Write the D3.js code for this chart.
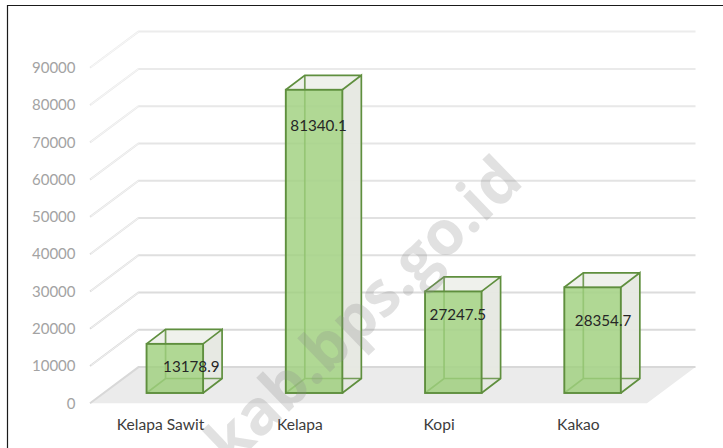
<!DOCTYPE html>
<html><head><meta charset="utf-8">
<script src="https://cdn.jsdelivr.net/npm/d3@7"></script>
<style>html,body{margin:0;padding:0;background:#fff}svg{display:block}text{font-family:Lato,"Open Sans",sans-serif}</style>
</head><body><div id="chart"></div>
<script>
const categories = ["Kelapa Sawit", "Kelapa", "Kopi", "Kakao"];
const values = [13178.9, 81340.1, 27247.5, 28354.7];
const valueLabels = ["13178.9", "81340.1", "27247.5", "28354.7"];
const yTicks = [0, 10000, 20000, 30000, 40000, 50000, 60000, 70000, 80000, 90000];
const watermark = "kab.bps.go.id";

const W = 723, H = 448;
const svg = d3.select("#chart").append("svg").attr("width", W).attr("height", H);

// layout
const wall = {dx: 48.5, dy: -36.2};         // floor depth
const inset = {dx: 15.2, dy: -10.3};        // bar front plane behind floor front
const depth = {dx: 19, dy: -14.5};          // bar depth
const y = d3.scaleLinear().domain([0, 90000]).range([403.3, 67.8]);
const x = d3.scaleBand().domain(categories).range([90 + inset.dx, 647 + inset.dx]).paddingInner(0.594).paddingOuter(0.297);
const xLabel = d3.scaleBand().domain(categories).range([91.5, 648.5]);
const labelShift = [[16.5, 23], [4.5, 36], [4.5, 23], [10.5, 33]]; // label centre relative to bar top centre

const pts = a => a.map(p => p.join(",")).join(" ");

// frame
svg.append("path").attr("d", `M7.5,${H} V5.5 H${W}`).attr("fill", "none").attr("stroke", "#1a1a1a").attr("stroke-width", 1.2);

// floor
svg.append("polygon")
  .attr("points", pts([[90, y(0)], [90 + wall.dx, y(0) + wall.dy], [647 + wall.dx, y(0) + wall.dy], [647, y(0)]]))
  .attr("fill", "#ebebeb");

// gridlines
const gridColor = d3.scaleLinear().domain([0, 90000]).range(["#d8d8d8", "#ececec"]);
svg.append("g").selectAll("polyline").data(yTicks).join("polyline")
  .attr("points", d => pts([[90, y(d)], [90 + wall.dx, y(d) + wall.dy], [647 + wall.dx, y(d) + wall.dy]]))
  .attr("fill", "none").attr("stroke", d => gridColor(d)).attr("stroke-width", 2);
svg.append("g").selectAll("line").data(yTicks.slice(1)).join("line")
  .attr("x1", 91).attr("y1", d => y(d) - 0.7).attr("x2", 90 + wall.dx).attr("y2", d => y(d) + wall.dy)
  .attr("stroke", "#fff").attr("stroke-width", 0.6);

// y tick labels
svg.append("g").selectAll("text").data(yTicks).join("text")
  .attr("x", 75.5).attr("y", d => y(d)).attr("dy", "0.35em").attr("text-anchor", "end")
  .attr("font-size", 15).attr("fill", "#a3a3a3").text(d => d);

// x labels
svg.append("g").selectAll("text").data(categories).join("text")
  .attr("x", d => xLabel(d) + xLabel.bandwidth() / 2 - 0.5).attr("y", 430).attr("text-anchor", "middle")
  .attr("font-size", 15.6).attr("fill", "#3c3c3c").text(d => d);

// bars
const edge = "#5f8f3e";
const bars = svg.append("g").selectAll("g").data(categories.map((c, i) => ({c, v: values[i], i}))).join("g");
bars.each(function (d) {
  const g = d3.select(this);
  const l = x(d.c), r = l + x.bandwidth();
  const b = y(0) + inset.dy, t = y(d.v) + inset.dy;
  const dx = depth.dx, dy = depth.dy;
  // translucent faces
  g.append("polygon").attr("points", pts([[l + dx, t + dy], [r + dx, t + dy], [r + dx, b + dy], [l + dx, b + dy]]))
    .attr("fill", "#f2f3ef").attr("fill-opacity", 0.55);
  g.append("polygon").attr("points", pts([[l, b], [l + dx, b + dy], [r + dx, b + dy], [r, b]]))
    .attr("fill", "#d9dcd2").attr("fill-opacity", 0.6);
  g.append("polygon").attr("points", pts([[r, t], [r + dx, t + dy], [r + dx, b + dy], [r, b]]))
    .attr("fill", "#e6e8e2").attr("fill-opacity", 0.95);
  g.append("polygon").attr("points", pts([[l, t], [l + dx, t + dy], [r + dx, t + dy], [r, t]]))
    .attr("fill", "#eff1ec").attr("stroke", "none");
  // back edges
  g.append("path").attr("d", `M${l},${b} L${l + dx},${b + dy} H${r + dx} M${l + dx},${b + dy} V${t + dy}`)
    .attr("fill", "none").attr("stroke", edge).attr("stroke-width", 1.7).attr("stroke-opacity", .85);
  // outer side edges
  g.append("path").attr("d", `M${r},${b} L${r + dx},${b + dy} V${t + dy} L${r},${t} M${l},${t} L${l + dx},${t + dy} H${r + dx}`)
    .attr("fill", "none").attr("stroke", edge).attr("stroke-width", 1.7);
  // front
  g.append("rect").attr("x", l).attr("y", t).attr("width", r - l).attr("height", b - t)
    .attr("fill", "#9dd07c").attr("fill-opacity", 0.8).attr("stroke", edge).attr("stroke-width", 1.9);
});

// value labels
svg.append("g").selectAll("text").data(values).join("text")
  .attr("x", (d, i) => x(categories[i]) + x.bandwidth() / 2 + labelShift[i][0])
  .attr("y", (d, i) => y(d) + inset.dy + labelShift[i][1]).attr("dy", "0.35em").attr("text-anchor", "middle")
  .attr("font-size", 15.2).attr("fill", "#262626").text((d, i) => valueLabels[i]);

// watermark
svg.append("text").attr("transform", "translate(363,310) rotate(-44)")
  .attr("text-anchor", "middle").attr("dy", "0.35em")
  .style("font-family", "'Open Sans',sans-serif").attr("font-weight", 700).attr("font-size", 62)
  .attr("fill", "#8c8c8c").attr("fill-opacity", 0.26).text(watermark);
</script></body></html>
